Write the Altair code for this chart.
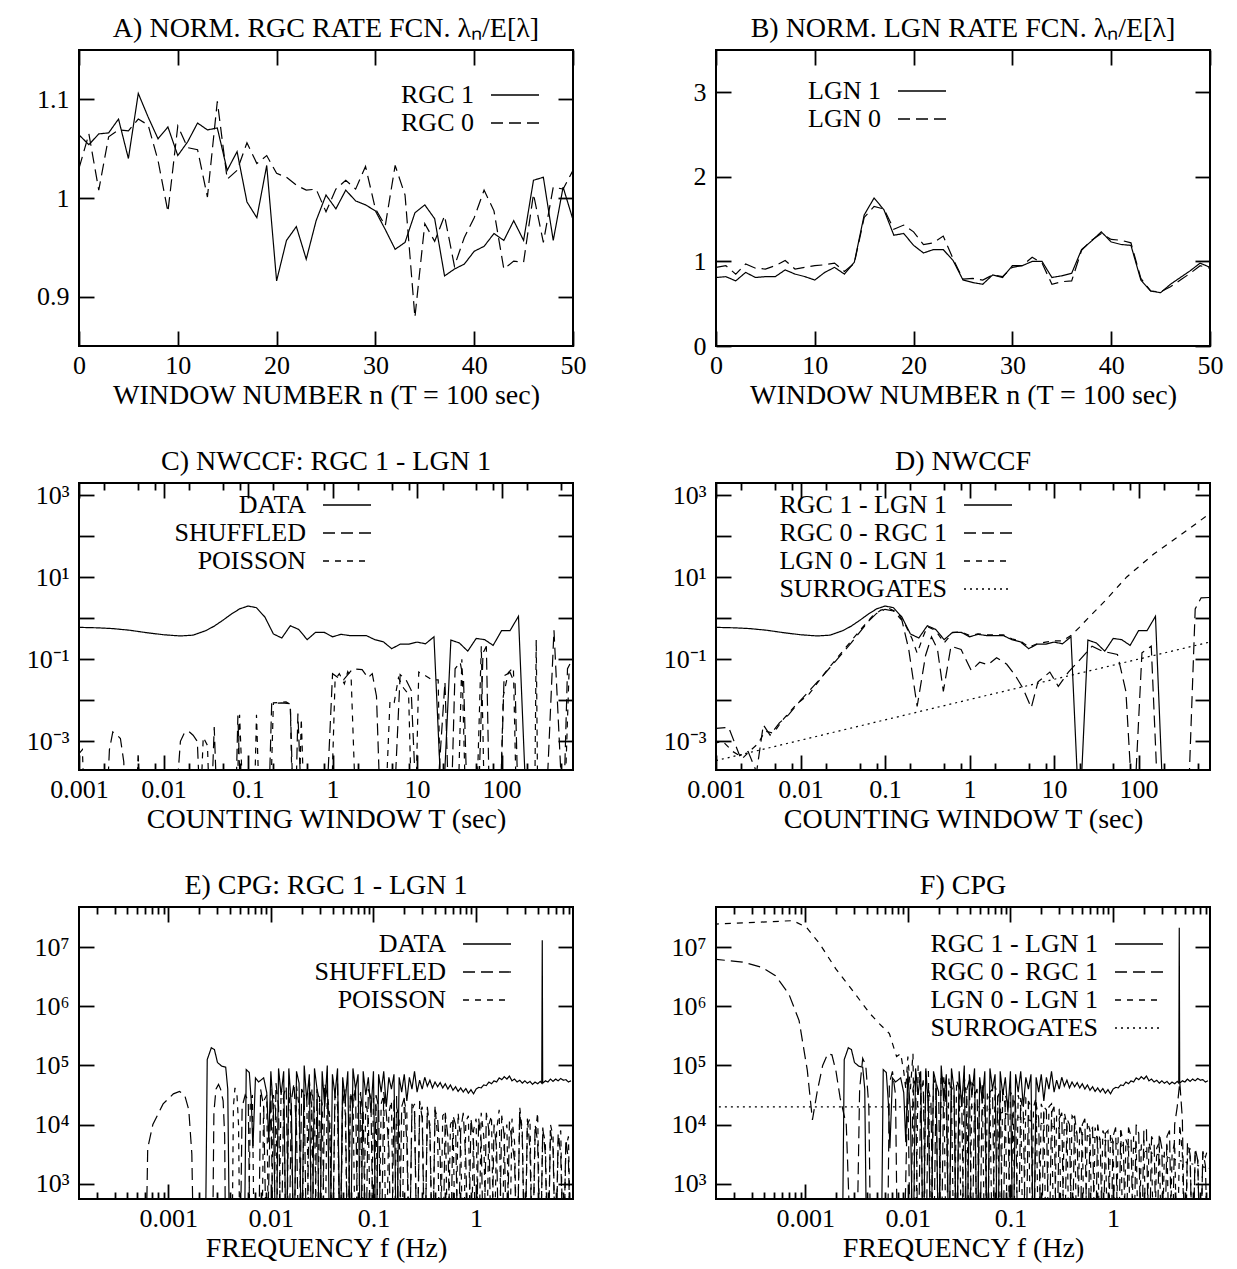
import altair as alt
import pandas as pd

FONT = "Liberation Serif"
FS_TICK = 26      # tick labels
FS = 28           # titles, axis titles
FS_LEG = 26       # legend labels
MAJ, MIN = 15, 7
W = 494
H_AB, H_CD, H_EF = 296, 287, 292

SOLID, LONG, SHORT, DOT = [1, 0], [12, 6], [6, 6], [2, 4]

# ---------------- Panel A / B (window number n = 0..50)
N = list(range(51))
A_RGC1 = [1.064, 1.054, 1.065, 1.066, 1.080, 1.040, 1.106, 1.082, 1.060, 1.072,
          1.043, 1.057, 1.076, 1.069, 1.071, 1.028, 1.047, 0.996, 0.980, 1.033,
          0.916, 0.957, 0.971, 0.938, 0.977, 1.003, 0.989, 1.008, 0.997, 0.993,
          0.987, 0.968, 0.948, 0.955, 0.985, 0.993, 0.979, 0.921, 0.928, 0.933,
          0.946, 0.951, 0.964, 0.957, 0.977, 0.957, 1.018, 1.021, 0.957, 1.011, 0.978]
A_RGC0 = [1.030, 1.065, 1.008, 1.062, 1.069, 1.068, 1.080, 1.074, 1.038, 0.986,
          1.073, 1.051, 1.049, 1.001, 1.098, 1.019, 1.028, 1.056, 1.035, 1.043,
          1.025, 1.021, 1.013, 1.008, 1.009, 0.986, 1.009, 1.018, 1.009, 1.032,
          0.989, 0.972, 1.033, 1.003, 0.879, 0.974, 0.956, 0.982, 0.931, 0.960,
          0.980, 1.008, 0.987, 0.928, 0.936, 0.935, 1.004, 0.955, 1.011, 1.009, 1.028]
B_LGN1 = [0.81, 0.82, 0.77, 0.87, 0.81, 0.82, 0.82, 0.90, 0.85, 0.82,
          0.78, 0.87, 0.93, 0.85, 0.99, 1.55, 1.75, 1.61, 1.31, 1.33,
          1.19, 1.10, 1.14, 1.14, 1.01, 0.78, 0.75, 0.73, 0.84, 0.81,
          0.95, 0.95, 1.00, 1.00, 0.81, 0.83, 0.86, 1.14, 1.24, 1.35,
          1.23, 1.20, 1.19, 0.78, 0.65, 0.63, 0.73, 0.81, 0.89, 0.98, 0.93]
B_LGN0 = [0.93, 0.95, 0.85, 0.97, 0.92, 0.91, 0.95, 1.01, 0.91, 0.93,
          0.95, 0.96, 0.98, 0.88, 0.98, 1.52, 1.65, 1.62, 1.38, 1.43,
          1.35, 1.20, 1.22, 1.30, 1.03, 0.79, 0.80, 0.78, 0.84, 0.82,
          0.93, 0.95, 1.05, 0.98, 0.73, 0.76, 0.77, 1.13, 1.25, 1.33,
          1.26, 1.25, 1.22, 0.80, 0.65, 0.64, 0.70, 0.78, 0.86, 0.95, 0.92]

# ---------------- Panels C / D : (log10 T, log10 NWCCF); -5 = below the plot
C_DATA = [(-3.0, -0.22), (-2.8, -0.23), (-2.6, -0.25), (-2.4, -0.29), (-2.2, -0.35),
          (-2.0, -0.40), (-1.8, -0.43), (-1.65, -0.41), (-1.5, -0.30), (-1.4, -0.19),
          (-1.3, -0.05), (-1.2, 0.10), (-1.1, 0.23), (-1.0, 0.30), (-0.9, 0.26),
          (-0.8, 0.03), (-0.7, -0.38), (-0.6, -0.48), (-0.5, -0.18), (-0.4, -0.27),
          (-0.3, -0.52), (-0.2, -0.34), (-0.1, -0.34), (0.0, -0.45), (0.1, -0.39),
          (0.2, -0.42), (0.3, -0.42), (0.4, -0.42), (0.5, -0.52), (0.6, -0.57),
          (0.7, -0.74), (0.8, -0.63), (0.9, -0.63), (1.0, -0.58), (1.1, -0.62),
          (1.2, -0.45), (1.3, -5), (1.4, -0.53), (1.5, -0.60), (1.6, -0.80),
          (1.7, -0.49), (1.8, -0.52), (1.9, -0.66), (2.0, -0.30), (2.1, -0.30),
          (2.2, 0.05), (2.3, -5)]
C_SHUF = [(-3.0, -5), (-2.68, -5), (-2.64, -3.2), (-2.60, -2.77), (-2.55, -2.85), (-2.51, -2.93),
          (-2.47, -3.5), (-2.45, -5), (-1.87, -5), (-1.80, -3.0), (-1.75, -2.78), (-1.70, -2.76),
          (-1.65, -2.85), (-1.60, -3.0), (-1.56, -5), (-1.44, -5), (-1.40, -2.65), (-1.36, -5),
          (-1.15, -5), (-1.12, -2.37), (-1.08, -5), (-0.76, -5), (-0.72, -2.08), (-0.60, -2.06),
          (-0.50, -2.08), (-0.46, -5), (-0.44, -5), (-0.41, -2.32), (-0.36, -5), (-0.08, -5),
          (0.0, -1.35), (0.07, -1.45), (0.13, -1.5), (0.24, -1.23), (0.35, -1.25), (0.42, -1.45),
          (0.47, -1.35), (0.52, -1.9), (0.57, -5), (0.72, -5), (0.80, -1.37), (0.87, -1.5),
          (0.93, -1.75), (1.0, -5), (1.22, -5), (1.33, -1.55), (1.38, -5), (1.40, -5),
          (1.45, -1.23), (1.51, -1.07), (1.55, -1.5), (1.60, -5), (1.72, -5), (1.78, -0.85),
          (1.82, -0.68), (1.86, -5), (1.98, -5), (2.03, -1.4), (2.10, -1.32), (2.16, -1.6),
          (2.20, -5), (2.52, -5), (2.62, -0.29), (2.73, -5), (2.78, -1.23), (2.86, -0.9)]
C_POIS = [(-3.0, -3.3), (-2.96, -3.2), (-2.93, -5), (-2.33, -5), (-2.30, -3.27), (-2.27, -5),
          (-1.57, -5), (-1.53, -2.9), (-1.48, -3.1), (-1.45, -5), (-1.14, -5), (-1.10, -2.35),
          (-1.05, -5), (-0.93, -5), (-0.90, -2.35), (-0.86, -5), (-0.74, -5), (-0.70, -2.06),
          (-0.55, -2.04), (-0.50, -2.1), (-0.47, -5), (-0.40, -5), (-0.37, -2.45), (-0.33, -5),
          (-0.02, -5), (0.03, -1.5), (0.08, -1.35), (0.14, -1.6), (0.18, -1.3), (0.22, -1.45),
          (0.28, -5), (0.62, -5), (0.68, -2.0), (0.73, -2.05), (0.78, -1.45), (0.84, -1.7),
          (0.90, -1.85), (0.94, -5), (0.98, -5), (1.02, -1.31), (1.10, -1.4), (1.18, -1.5),
          (1.25, -1.5), (1.28, -5), (1.48, -5), (1.53, -1.0), (1.58, -5), (1.70, -5),
          (1.76, -0.68), (1.80, -5), (1.98, -5), (2.02, -1.9), (2.08, -1.32), (2.14, -1.2),
          (2.18, -5), (2.39, -5), (2.41, -0.52), (2.43, -5), (2.74, -5), (2.80, -1.2)]
D_RGC0 = [(-3.03, -2.69), (-2.85, -2.66), (-2.72, -3.35), (-2.62, -3.25), (-2.52, -3.75),
          (-2.44, -2.6), (-2.36, -2.85), (-2.25, -2.55), (-2.14, -2.35), (-2.0, -2.0),
          (-1.8, -1.55), (-1.6, -1.08), (-1.4, -0.6), (-1.2, -0.08), (-1.1, 0.12),
          (-1.0, 0.22), (-0.9, 0.18), (-0.8, -0.05), (-0.72, -0.75), (-0.62, -2.15),
          (-0.52, -0.9), (-0.45, -0.45), (-0.38, -0.75), (-0.31, -1.78), (-0.22, -0.68),
          (-0.10, -0.76), (0.02, -1.27), (0.12, -1.07), (0.22, -1.13), (0.32, -0.96),
          (0.44, -1.12), (0.54, -1.39), (0.63, -1.70), (0.73, -2.18), (0.81, -1.55),
          (0.95, -1.31), (1.05, -1.66), (1.17, -1.31), (1.31, -1.0), (1.45, -0.68),
          (1.57, -0.80), (1.75, -0.88), (1.85, -1.78), (1.94, -5), (2.04, -0.84),
          (2.15, -0.68), (2.24, -5), (2.58, -5), (2.67, 0.23), (2.74, 0.50), (2.86, 0.51)]
D_LGN0 = [(-3.03, -3.05), (-2.92, -3.0), (-2.80, -3.25), (-2.68, -3.4), (-2.58, -3.2),
          (-2.5, -3.05), (-2.42, -2.75), (-2.32, -2.8), (-2.2, -2.45), (-2.05, -2.1),
          (-1.9, -1.85), (-1.7, -1.3), (-1.5, -0.8), (-1.3, -0.3), (-1.15, 0.05),
          (-1.05, 0.2), (-0.95, 0.24), (-0.85, 0.14), (-0.75, -0.2), (-0.68, -0.5),
          (-0.62, -0.85), (-0.55, -0.45), (-0.5, -0.2), (-0.4, -0.3), (-0.3, -0.6),
          (-0.2, -0.35), (-0.1, -0.33), (0.0, -0.42), (0.1, -0.38), (0.2, -0.40),
          (0.3, -0.40), (0.4, -0.40), (0.5, -0.50), (0.6, -0.55), (0.7, -0.70),
          (0.8, -0.62), (0.9, -0.58), (1.0, -0.55), (1.1, -0.55), (1.2, -0.42),
          (1.3, -0.22), (1.4, 0.0), (1.6, 0.42), (1.86, 1.01), (2.18, 1.57),
          (2.5, 2.04), (2.82, 2.52)]
D_SURR = [(-3.0, -3.47), (0.0, -1.98), (2.86, -0.57)]

# ---------------- Panels E / F : (log10 f, log10 CPG); 1.5 = below the plot
E_DATA_LOW = [(-3.9, 1.5), (-2.64, 1.5), (-2.62, 5.10), (-2.58, 5.30), (-2.55, 5.27),
              (-2.52, 5.05), (-2.48, 4.99), (-2.44, 4.97), (-2.42, 4.6), (-2.40, 1.5),
              (-2.26, 1.5), (-2.24, 4.93), (-2.21, 4.88), (-2.19, 4.37), (-2.175, 3.6),
              (-2.15, 4.79), (-2.12, 4.72), (-2.07, 4.79), (-2.04, 4.54), (-2.02, 3.7)]
E_SPIKE = [(0.640, 4.7), (0.645, 7.12), (0.649, 4.7)]
F_SPIKE = [(0.640, 4.7), (0.645, 7.33), (0.649, 4.7)]
E_SHUF_LOW = [(-3.9, 1.5), (-3.22, 1.5), (-3.20, 3.6), (-3.15, 4.0), (-3.05, 4.35),
              (-2.95, 4.52), (-2.89, 4.56), (-2.84, 4.5), (-2.80, 4.25), (-2.77, 3.5),
              (-2.75, 1.5), (-2.57, 1.5), (-2.555, 4.2), (-2.535, 4.6), (-2.51, 4.68),
              (-2.49, 4.6), (-2.465, 4.4), (-2.45, 3.8), (-2.44, 1.5), (-2.30, 1.5),
              (-2.28, 4.3), (-2.25, 4.5), (-2.22, 4.4), (-2.20, 1.5), (-2.12, 1.5),
              (-2.10, 4.6), (-2.07, 4.3), (-2.04, 1.5)]
E_POIS_LOW = [(-3.9, 1.5), (-2.38, 1.5), (-2.365, 4.3), (-2.35, 4.62), (-2.33, 4.5),
              (-2.315, 4.0), (-2.30, 1.5), (-2.22, 1.5), (-2.20, 4.4), (-2.18, 4.5),
              (-2.16, 1.5), (-2.09, 1.5), (-2.07, 4.4), (-2.04, 4.5), (-2.02, 1.5)]
F_RGC0_LOW = [(-3.9, 6.80), (-3.61, 6.75), (-3.42, 6.66), (-3.29, 6.52), (-3.16, 6.21),
              (-3.06, 5.76), (-2.98, 4.92), (-2.93, 4.08), (-2.88, 4.59), (-2.83, 5.0),
              (-2.78, 5.2), (-2.74, 5.18), (-2.70, 4.9), (-2.66, 4.45), (-2.60, 4.0),
              (-2.55, 1.5), (-2.50, 1.5), (-2.47, 4.6), (-2.44, 5.12), (-2.41, 5.0),
              (-2.38, 4.3), (-2.36, 1.5), (-2.20, 1.5), (-2.18, 4.7), (-2.15, 4.9),
              (-2.12, 4.5), (-2.10, 1.5), (-2.04, 1.5)]
F_LGN0_LOW = [(-3.9, 7.39), (-3.12, 7.45), (-2.99, 7.34), (-2.86, 7.06), (-2.70, 6.63),
              (-2.54, 6.27), (-2.37, 5.88), (-2.28, 5.71), (-2.18, 5.54), (-2.11, 5.15),
              (-2.07, 5.2), (-2.04, 4.9), (-2.02, 4.6)]
F_SURR = [(-3.9, 4.30), (-1.3, 4.30), (0.95, 3.25)]

# dense part: one value every 0.025 decade starting at log10 f = -2.0
DENSE_START, DENSE_STEP = -2.0, 0.025
E_DATA_DENSE = [4.9, 4.2, 1.5, 4.95, 4.5, 4.9, 1.5, 4.95, 4.3, 1.5,
                4.9, 4.7, 1.5, 5.0, 4.4, 4.85, 1.5, 4.95, 4.6, 1.5,
                4.9, 4.3, 5.0, 1.5, 4.85, 4.5, 4.95, 1.5, 4.8, 4.4,
                4.9, 1.5, 4.95, 4.6, 4.85, 1.5, 4.9, 4.5, 4.8, 4.2,
                4.9, 1.5, 4.85, 4.55, 4.9, 4.3, 4.8, 4.6, 4.85, 1.5,
                4.8, 4.55, 4.85, 4.4, 4.8, 4.6, 4.9, 4.55, 4.75, 4.6,
                4.8, 4.65, 4.75, 4.62, 4.72, 4.64, 4.71, 4.62, 4.69, 4.6,
                4.67, 4.58, 4.64, 4.56, 4.62, 4.55, 4.61, 4.53, 4.59, 4.52,
                4.6, 4.63, 4.62, 4.67, 4.66, 4.72, 4.69, 4.74, 4.72, 4.79,
                4.76, 4.81, 4.77, 4.82, 4.74, 4.77, 4.72, 4.75, 4.7, 4.74,
                4.7, 4.73, 4.68, 4.72, 4.69, 4.73, 4.7, 4.74, 4.72, 4.77,
                4.73, 4.77, 4.74, 4.78, 4.75, 4.76, 4.72, 4.74]
E_SHUF_DENSE = [4.6, 1.5, 4.7, 4.3, 1.5, 4.5, 4.65, 1.5, 4.4, 4.7,
                3.9, 1.5, 4.6, 4.5, 1.5, 4.75, 4.2, 1.5, 4.6, 4.4,
                1.5, 4.7, 4.5, 3.8, 1.5, 4.6, 4.7, 1.5, 4.4, 4.6,
                1.5, 4.55, 4.3, 4.65, 1.5, 4.5, 4.2, 1.5, 4.6, 4.45,
                1.5, 4.5, 4.3, 1.5, 4.55, 4.2, 3.6, 1.5, 4.4, 4.5,
                1.5, 4.3, 4.45, 3.7, 1.5, 4.35, 4.2, 1.5, 4.4, 4.1,
                1.5, 4.3, 3.9, 1.5, 4.25, 4.1, 3.5, 1.5, 4.2, 3.8,
                1.5, 4.15, 4.0, 1.5, 3.9, 4.2, 3.4, 1.5, 4.1, 3.7,
                1.5, 4.1, 3.7, 1.5, 4.2, 3.9, 1.5, 4.0, 3.6, 1.5,
                4.15, 3.8, 1.5, 4.05, 3.7, 3.4, 1.5, 4.2, 3.8, 1.5,
                4.1, 3.6, 1.5, 4.0, 3.7, 1.5, 3.95, 3.5, 1.5, 3.9,
                3.6, 1.5, 3.85, 3.5, 1.5, 3.75, 3.4, 1.5]
E_POIS_DENSE = [1.5, 4.5, 4.2, 1.5, 4.6, 4.4, 1.5, 4.55, 4.0, 1.5,
                4.65, 4.3, 1.5, 4.5, 4.45, 1.5, 4.6, 4.2, 1.5, 4.5,
                4.35, 1.5, 4.55, 4.1, 1.5, 4.5, 4.3, 1.5, 4.6, 4.2,
                1.5, 4.45, 4.5, 1.5, 4.3, 4.55, 1.5, 4.4, 4.1, 1.5,
                4.45, 4.3, 1.5, 4.35, 4.5, 1.5, 4.2, 4.4, 1.5, 4.3,
                4.1, 1.5, 4.4, 4.2, 1.5, 4.25, 4.35, 1.5, 4.2, 4.3,
                1.5, 4.2, 4.0, 1.5, 4.3, 3.8, 1.5, 4.15, 4.2, 1.5,
                4.0, 4.1, 1.5, 4.2, 3.7, 1.5, 4.05, 4.15, 1.5, 3.9,
                4.1, 1.5, 4.2, 3.8, 1.5, 4.0, 4.15, 1.5, 3.9, 4.25,
                1.5, 3.8, 4.0, 1.5, 4.1, 3.7, 1.5, 4.3, 3.9, 1.5,
                4.0, 4.1, 1.5, 3.8, 4.2, 1.5, 3.9, 3.7, 1.5, 4.0,
                3.8, 1.5, 3.7, 3.9, 1.5, 3.6, 3.8, 1.5]
F_RGC0_DENSE = [4.7, 1.5, 4.6, 4.8, 1.5, 4.5, 4.75, 1.5, 4.6, 4.4,
                1.5, 4.7, 4.55, 1.5, 4.8, 4.3, 1.5, 4.65, 4.5, 1.5,
                4.7, 4.4, 1.5, 4.6, 4.75, 1.5, 4.5, 4.6, 1.5, 4.65,
                4.3, 1.5, 4.55, 4.6, 1.5, 4.45, 4.6, 1.5, 4.5, 4.35,
                1.5, 4.5, 4.3, 1.5, 4.45, 4.2, 1.5, 4.4, 4.3, 1.5,
                4.35, 4.1, 1.5, 4.3, 4.25, 1.5, 4.2, 4.3, 1.5, 4.1,
                4.2, 1.5, 4.1, 4.0, 1.5, 4.15, 3.8, 1.5, 4.0, 4.1,
                1.5, 3.9, 3.95, 1.5, 4.0, 3.7, 1.5, 3.85, 3.9, 1.5,
                3.8, 3.95, 1.5, 3.9, 3.7, 1.5, 3.95, 3.8, 1.5, 4.0,
                3.85, 1.5, 3.9, 3.95, 1.5, 3.8, 3.7, 1.5, 3.85, 3.6,
                1.5, 3.8, 3.9, 1.5, 4.0, 4.3, 4.72, 4.1, 1.5, 3.7,
                3.5, 1.5, 3.6, 3.4, 1.5, 3.55, 3.3, 1.5]
F_LGN0_DENSE = [5.15, 4.6, 5.2, 1.5, 5.0, 4.7, 1.5, 4.9, 4.95, 1.5,
                4.8, 4.6, 1.5, 4.85, 4.7, 1.5, 4.8, 4.5, 1.5, 4.75,
                4.6, 1.5, 4.8, 4.4, 1.5, 4.7, 4.65, 1.5, 4.6, 4.7,
                1.5, 4.55, 4.4, 1.5, 4.65, 4.5, 1.5, 4.6, 4.3, 1.5,
                4.55, 4.45, 1.5, 4.5, 4.3, 1.5, 4.45, 4.4, 1.5, 4.3,
                4.45, 1.5, 4.35, 4.2, 1.5, 4.3, 4.35, 1.5, 4.2, 4.25,
                1.5, 4.2, 4.0, 1.5, 4.15, 4.1, 1.5, 4.0, 3.8, 1.5,
                4.05, 3.9, 1.5, 3.95, 3.7, 1.5, 3.9, 3.8, 1.5, 3.85,
                3.7, 1.5, 3.8, 3.9, 1.5, 3.75, 3.6, 1.5, 3.8, 3.7,
                1.5, 3.65, 3.75, 1.5, 3.7, 3.5, 1.5, 3.6, 3.7, 1.5,
                3.55, 3.65, 1.5, 3.5, 3.7, 1.5, 4.0, 3.5, 1.5, 3.45,
                3.6, 1.5, 3.5, 3.4, 1.5, 3.55, 3.45, 3.6]

# ---------------- ticks and labels
AB_X_TICKS = [0, 10, 20, 30, 40, 50]
A_Y_TICKS = [0.9, 1.0, 1.1]
B_Y_TICKS = [0, 1, 2, 3]
CD_X_TICKS = [0.001, 0.01, 0.1, 1, 10, 100]
CD_MINOR_MULT = [2, 5, 8]
CD_Y_TICKS = [1e-3, 1e-2, 1e-1, 1, 10, 100, 1000]
CD_Y_LABELS = ["10⁻³", "", "10⁻¹", "", "10¹", "", "10³"]
EF_X_TICKS = [0.001, 0.01, 0.1, 1]
EF_MINOR_MULT = [2, 3, 4, 5, 6, 7, 8, 9]
EF_Y_TICKS = [1e3, 1e4, 1e5, 1e6, 1e7]
EF_Y_LABELS = ["10³", "10⁴", "10⁵", "10⁶", "10⁷"]

CD_XDOM, CD_YDOM = [0.001, 700], [2e-4, 2e3]
EF_XDOM, EF_YDOM = [1.35e-4, 8.8], [550, 4.8e7]

LEG_SIZE = FS_LEG      # legend entry size = label font size (Vega rule)
SAMPLE_GAP, SAMPLE_LEN = 17, 48


def minor_ticks(mults, decades, dom):
    return [m * 10.0 ** d for d in decades for m in mults if dom[0] <= m * 10.0 ** d <= dom[1]]


def label_expr(ticks, labels):
    out = ""
    for i, (t, lab) in enumerate(zip(ticks, labels)):
        if i < len(ticks) - 1:
            thr = (t * ticks[i + 1]) ** 0.5
            out += f"datum.value < {thr:.6g} ? '{lab}' : "
        else:
            out += f"'{lab}'"
    return out


def lin_rows(name, xs, ys):
    return [{"x": x, "y": y, "series": name} for x, y in zip(xs, ys)]


def log_rows(name, pairs):
    return [{"x": 10.0 ** a, "y": 10.0 ** b, "series": name} for a, b in pairs]


def dense_pairs(vals):
    return [(DENSE_START + DENSE_STEP * k, v) for k, v in enumerate(vals)]


# Symbol is centred at LEG_SIZE/2, label right edge at LEG_SIZE: draw the line sample
# as a custom path shifted to the right of the label (path units scaled by sqrt(100)/2 = 5).
_s0 = (LEG_SIZE / 2 + SAMPLE_GAP) / 5.0
_s1 = (LEG_SIZE / 2 + SAMPLE_GAP + SAMPLE_LEN) / 5.0
SAMPLE_PATH = f"M{_s0:.2f},0H{_s1:.2f}"


def legend(label_right, top):
    return alt.Legend(orient="none", legendX=label_right - LEG_SIZE, legendY=top, title=None,
                      direction="vertical", columns=1,
                      symbolType=SAMPLE_PATH, symbolSize=100, symbolStrokeWidth=1.3,
                      symbolStrokeColor="black", symbolOffset=0,
                      labelOffset=0, labelAlign="right", labelFont=FONT,
                      labelFontSize=FS_LEG, labelColor="black", labelLimit=600,
                      rowPadding=2, padding=0)


def panel(rows, title, h, xscale, yscale, xmaj, ymaj, xtitle, dom, rng, leg,
          xminor=None, yexpr=None, xfmt=None, yfmt=None):
    df = pd.DataFrame(rows)
    xa = dict(orient="bottom", values=xmaj, tickSize=MAJ, offset=-MAJ,
              labelPadding=6, title=xtitle, titlePadding=3)
    if xfmt:
        xa["format"] = xfmt
    ya = dict(orient="left", values=ymaj, tickSize=MAJ, offset=-MAJ,
              labelPadding=10, title=None)
    if yexpr:
        ya["labelExpr"] = yexpr
    if yfmt:
        ya["format"] = yfmt
    base = alt.Chart(df)
    lines = base.mark_line(clip=True, color="black", strokeWidth=1.2).encode(
        x=alt.X("x:Q", scale=xscale, axis=alt.Axis(**xa)),
        y=alt.Y("y:Q", scale=yscale, axis=alt.Axis(**ya)),
        strokeDash=alt.StrokeDash("series:N", scale=alt.Scale(domain=dom, range=rng),
                                  legend=leg),
    )
    box = base.mark_line(clip=True, opacity=0).encode(
        x=alt.X("x:Q", scale=xscale,
                axis=alt.Axis(orient="top", values=xmaj, tickSize=MAJ, offset=-MAJ,
                              labels=False, title=None)),
        y=alt.Y("y:Q", scale=yscale,
                axis=alt.Axis(orient="right", values=ymaj, tickSize=MAJ, offset=-MAJ,
                              labels=False, title=None)),
    )
    layers = [lines, box]
    if xminor:
        for o in ("bottom", "top"):
            layers.append(base.mark_line(clip=True, opacity=0).encode(
                x=alt.X("x:Q", scale=xscale,
                        axis=alt.Axis(orient=o, values=xminor, tickSize=MIN, offset=-MIN,
                                      labels=False, title=None)),
                y=alt.Y("y:Q", scale=yscale, axis=None)))
    return (alt.layer(*layers)
            .resolve_axis(x="independent", y="independent")
            .properties(width=W, height=h, title=alt.TitleParams(title)))


ab_x = alt.Scale(domain=[0, 50], nice=False, zero=False)
cd_x = alt.Scale(type="log", domain=CD_XDOM, nice=False)
cd_y = alt.Scale(type="log", domain=CD_YDOM, nice=False)
ef_x = alt.Scale(type="log", domain=EF_XDOM, nice=False)
ef_y = alt.Scale(type="log", domain=EF_YDOM, nice=False)

cd_minor = minor_ticks(CD_MINOR_MULT, range(-3, 3), CD_XDOM)
ef_minor = minor_ticks(EF_MINOR_MULT, range(-4, 1), EF_XDOM)

pA = panel(lin_rows("RGC 1", N, A_RGC1) + lin_rows("RGC 0", N, A_RGC0),
           "A) NORM. RGC RATE FCN. λₙ/E[λ]", H_AB, ab_x,
           alt.Scale(domain=[0.85, 1.15], nice=False, zero=False),
           AB_X_TICKS, A_Y_TICKS, "WINDOW NUMBER n (T = 100 sec)",
           ["RGC 1", "RGC 0"], [SOLID, LONG], legend(395, 32), xfmt="d", yfmt="~g")

pB = panel(lin_rows("LGN 1", N, B_LGN1) + lin_rows("LGN 0", N, B_LGN0),
           "B) NORM. LGN RATE FCN. λₙ/E[λ]", H_AB, ab_x,
           alt.Scale(domain=[0, 3.5], nice=False, zero=False),
           AB_X_TICKS, B_Y_TICKS, "WINDOW NUMBER n (T = 100 sec)",
           ["LGN 1", "LGN 0"], [SOLID, LONG], legend(165, 28), xfmt="d", yfmt="~g")

cd_expr = label_expr(CD_Y_TICKS, CD_Y_LABELS)
pC = panel(log_rows("DATA", C_DATA) + log_rows("SHUFFLED", C_SHUF) + log_rows("POISSON", C_POIS),
           "C) NWCCF: RGC 1 - LGN 1", H_CD, cd_x, cd_y, CD_X_TICKS, CD_Y_TICKS,
           "COUNTING WINDOW T (sec)", ["DATA", "SHUFFLED", "POISSON"],
           [SOLID, LONG, SHORT], legend(227, 9), xminor=cd_minor, yexpr=cd_expr, xfmt="~g")

pD = panel(log_rows("RGC 1 - LGN 1", C_DATA) + log_rows("RGC 0 - RGC 1", D_RGC0)
           + log_rows("LGN 0 - LGN 1", D_LGN0) + log_rows("SURROGATES", D_SURR),
           "D) NWCCF", H_CD, cd_x, cd_y, CD_X_TICKS, CD_Y_TICKS,
           "COUNTING WINDOW T (sec)",
           ["RGC 1 - LGN 1", "RGC 0 - RGC 1", "LGN 0 - LGN 1", "SURROGATES"],
           [SOLID, LONG, SHORT, DOT], legend(231, 9), xminor=cd_minor, yexpr=cd_expr, xfmt="~g")

ef_expr = label_expr(EF_Y_TICKS, EF_Y_LABELS)
e_data = E_DATA_LOW + dense_pairs(E_DATA_DENSE) + E_SPIKE
f_data = E_DATA_LOW + dense_pairs(E_DATA_DENSE) + F_SPIKE
pE = panel(log_rows("DATA", e_data)
           + log_rows("SHUFFLED", E_SHUF_LOW + dense_pairs(E_SHUF_DENSE))
           + log_rows("POISSON", E_POIS_LOW + dense_pairs(E_POIS_DENSE)),
           "E) CPG: RGC 1 - LGN 1", H_EF, ef_x, ef_y, EF_X_TICKS, EF_Y_TICKS,
           "FREQUENCY f (Hz)", ["DATA", "SHUFFLED", "POISSON"],
           [SOLID, LONG, SHORT], legend(367, 24), xminor=ef_minor, yexpr=ef_expr, xfmt="~g")

pF = panel(log_rows("RGC 1 - LGN 1", f_data)
           + log_rows("RGC 0 - RGC 1", F_RGC0_LOW + dense_pairs(F_RGC0_DENSE))
           + log_rows("LGN 0 - LGN 1", F_LGN0_LOW + dense_pairs(F_LGN0_DENSE))
           + log_rows("SURROGATES", F_SURR),
           "F) CPG", H_EF, ef_x, ef_y, EF_X_TICKS, EF_Y_TICKS,
           "FREQUENCY f (Hz)",
           ["RGC 1 - LGN 1", "RGC 0 - RGC 1", "LGN 0 - LGN 1", "SURROGATES"],
           [SOLID, LONG, SHORT, DOT], legend(382, 24), xminor=ef_minor, yexpr=ef_expr, xfmt="~g")

chart = (alt.concat(pA, pB, pC, pD, pE, pF, columns=2, align="each",
                    spacing={"row": 137, "column": 143}, bounds="flush")
         .resolve_scale(strokeDash="independent")
         .resolve_legend(strokeDash="independent")
         .properties(padding={"left": 17, "top": 6, "right": 5, "bottom": 3})
         .configure(font=FONT, background="white")
         .configure_view(stroke="black", strokeWidth=2)
         .configure_axis(domain=False, grid=False, labelFont=FONT, labelFontSize=FS_TICK,
                         labelColor="black", tickColor="black", tickWidth=1.8,
                         labelFlush=False, labelOverlap=False, titleFont=FONT,
                         titleFontSize=FS, titleFontWeight="normal", titleColor="black",
                         titleLimit=1000)
         .configure_title(font=FONT, fontSize=FS, fontWeight="normal", color="black",
                          anchor="middle", offset=6))

chart.save("out.html", embed_options={"renderer": "svg", "actions": False})
